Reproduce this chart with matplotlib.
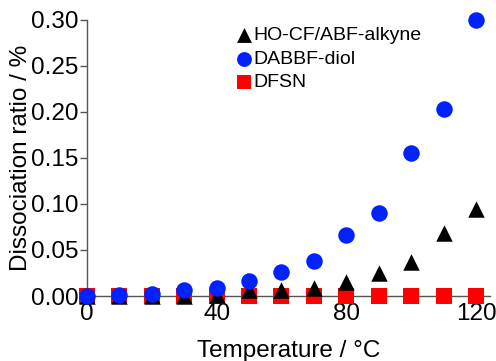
import matplotlib
import matplotlib.pyplot as plt

matplotlib.use('Agg')

plt.rcParams['font.family'] = ['Liberation Sans', 'DejaVu Sans']

# Данные
temperature = [0, 10, 20, 30, 40, 50, 60, 70, 80, 90, 100, 110, 120]
ho_cf_abf = [0.0, 0.0, 0.0, 0.0, 0.001, 0.006, 0.007, 0.009, 0.015, 0.025, 0.037, 0.069, 0.095]
dabbf_diol = [0.0, 0.001, 0.002, 0.007, 0.009, 0.016, 0.026, 0.038, 0.066, 0.090, 0.155, 0.203, 0.300]
dfsn = [0.0] * 13

x_ticks = [0, 40, 80, 120]
y_ticks = [0.00, 0.05, 0.10, 0.15, 0.20, 0.25, 0.30]

fig = plt.figure(figsize=(4.96, 3.61), dpi=100)
ax = fig.add_axes([0.175, 0.18, 0.813, 0.765])

sq = ax.scatter(temperature, dfsn, marker='s', s=16 ** 2 * 0.52, color='#ff0000',
                linewidths=0, label='DFSN', zorder=3, clip_on=False)
tr = ax.scatter(temperature, ho_cf_abf, marker='^', s=16 ** 2 * 0.55, color='black',
                linewidths=0, label='HO-CF/ABF-alkyne', zorder=4, clip_on=False)
ci = ax.scatter(temperature, dabbf_diol, marker='o', s=16 ** 2 * 0.55, color='#0022ff',
                linewidths=0, label='DABBF-diol', zorder=5, clip_on=False)

ax.set_xlim(0, 124.3)
ax.set_ylim(0, 0.30)
ax.set_xticks(x_ticks)
ax.set_yticks(y_ticks)
ax.set_yticklabels(['%.2f' % v for v in y_ticks])

for s in ['top', 'right']:
    ax.spines[s].set_visible(False)
for s in ['left', 'bottom']:
    ax.spines[s].set_color('#555555')
    ax.spines[s].set_linewidth(1.0)

ax.tick_params(axis='y', direction='out', length=5, width=1, color='#555555',
               labelsize=17.5, pad=1)
ax.tick_params(axis='x', length=0, labelsize=17.5, pad=5)

ax.set_xlabel('Temperature / °C', fontsize=17.5, labelpad=10.5)
ax.set_ylabel('Dissociation ratio / %', fontsize=17.5, labelpad=-1)

ax.legend(handles=[tr, ci, sq], loc='upper left', bbox_to_anchor=(0.335, 1.025),
          frameon=False, fontsize=14, handletextpad=0.0, handlelength=0.9,
          labelspacing=0.3, markerscale=0.9, borderaxespad=0.3)

# Обрезанная подпись сверху
fig.text(0.0, 1.035, '(Fig. )', fontsize=17.5, va='center', ha='left')

fig.savefig('out.png', dpi=100)
